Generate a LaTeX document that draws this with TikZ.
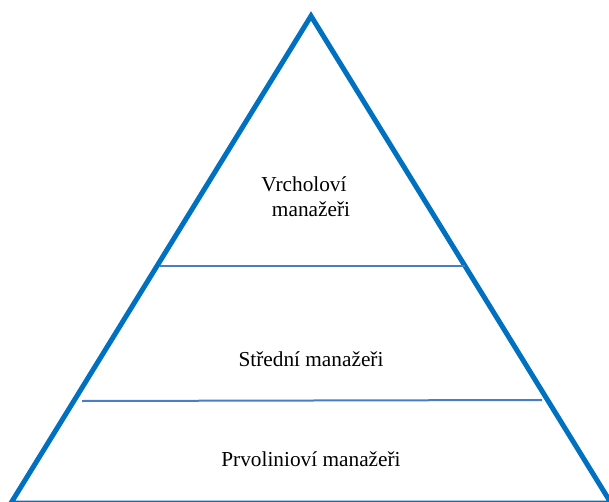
\documentclass[tikz,border=0pt]{standalone}
\usepackage{fontspec}
\setmainfont{Liberation Serif}
\definecolor{triblue}{HTML}{0070C0}
\definecolor{lineblue}{HTML}{4A7EC4}
\begin{document}
\begin{tikzpicture}[x=1pt,y=-1pt,
  side/.style={draw=triblue,line width=5pt,line join=miter},
  divider/.style={draw=lineblue,line width=2pt},
  label/.style={anchor=base,inner sep=0pt,font=\fontsize{21.3}{25}\selectfont}]
\useasboundingbox (0,0) rectangle (609,502);
\coordinate (apex) at (311,16);
\coordinate (bl) at (11,503);
\coordinate (br) at (611,503);
\draw[side] (apex) -- (br) -- (bl) -- cycle;
\coordinate (u1) at (160,265.5);
\coordinate (u2) at (465,265.5);
\coordinate (m1) at (82,401);
\coordinate (m2) at (542,400);
\draw[divider] (u1) -- (u2);
\draw[divider] (m1) -- (m2);
\node[label] (top1) at (304,192) {Vrcholoví};
\node[label] (top2) at (311,217) {manažeři};
\node[label] (mid) at (311,366) {Střední manažeři};
\node[label] (bot) at (311,466) {Prvolinioví manažeři};
\end{tikzpicture}
\end{document}
